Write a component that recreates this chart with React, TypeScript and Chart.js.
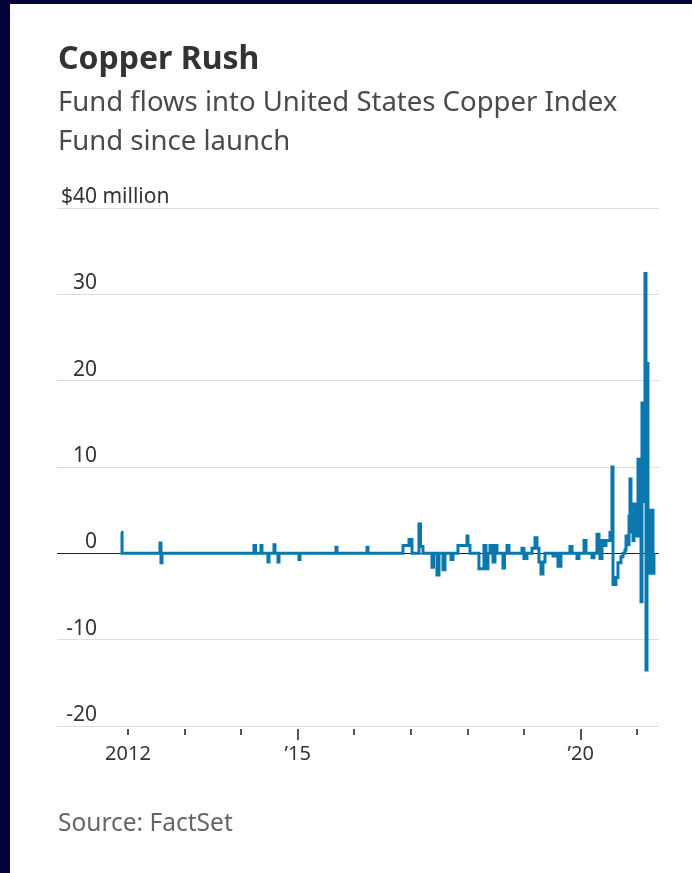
import React, { useEffect, useRef } from 'react';
import { Chart, registerables } from 'chart.js';

Chart.register(...registerables);

const FONT = '"Noto Sans", "Open Sans", sans-serif';

// Weekly fund flows ($ million). Each value holds from its date until the next listed date.
const flowDates = [
  2011.876, 2011.895,
  2012.565, 2012.583, 2012.601,
  2014.226, 2014.253, 2014.35, 2014.367, 2014.473, 2014.491, 2014.58, 2014.597, 2014.65, 2014.668,
  2015.021, 2015.039, 2015.675, 2015.693,
  2016.223, 2016.24, 2016.859, 2016.965,
  2017.018, 2017.141, 2017.168, 2017.212, 2017.371, 2017.398, 2017.459, 2017.495, 2017.565, 2017.601,
  2017.707, 2017.742, 2017.83, 2017.989,
  2018.007, 2018.042, 2018.201, 2018.289, 2018.325, 2018.36, 2018.396, 2018.449, 2018.484, 2018.519,
  2018.625, 2018.652, 2018.696, 2018.731, 2018.961, 2018.996,
  2019.049, 2019.138, 2019.191, 2019.226, 2019.261, 2019.297, 2019.332, 2019.367, 2019.509, 2019.544,
  2019.597, 2019.65, 2019.809, 2019.845, 2019.933, 2019.968,
  2020.057, 2020.092, 2020.198, 2020.233, 2020.286, 2020.322, 2020.339, 2020.375, 2020.41, 2020.445,
  2020.481, 2020.516, 2020.551, 2020.569, 2020.622, 2020.657, 2020.71, 2020.746,
  2020.781, 2020.799, 2020.834, 2020.852, 2020.869, 2020.887, 2020.905, 2020.922, 2020.94, 2020.958,
  2020.975, 2020.993,
  2021.011, 2021.028, 2021.046, 2021.064, 2021.081, 2021.099, 2021.117, 2021.134, 2021.152, 2021.17,
  2021.187, 2021.205, 2021.223, 2021.24, 2021.258, 2021.276, 2021.293,
];
const flowValues = [
  2.4, 0,
  1.2, -1.1, 0,
  0.9, 0, 0.9, 0, -1.0, 0, 1.0, 0, -1.0, 0,
  -0.7, 0, 0.7, 0,
  0.7, 0, 0.9, 1.6,
  0, 3.4, 0.8, 0, -1.6, 0, -2.5, 0, -1.9, 0,
  -0.7, 0, 0.9, 2.0,
  0.9, 0, -1.8, 0.9, -1.8, 0, 0.9, -1.0, 0.9, 0,
  -1.7, 0, 0.9, 0, 0.6, -0.6,
  0, 0.6, 1.8, 0.6, -1.0, -2.4, -1.0, 0, -0.3, 0,
  -1.5, 0, 0.8, 0, -0.6, 0,
  1.5, 0, -0.5, 0, 2.2, 0.5, -0.6, 1.5, 0.9, 1.5,
  1.5, 2.4, 10.0, -3.6, -2.8, -1.1, -0.4, 0,
  0.4, 2.0, 1.0, 4.3, 8.6, 2.5, 4.5, 1.5, 5.7, 3.0,
  5.7, 2.0,
  10.9, 4.0, 10.9, -5.6, 17.4, 6.0, 17.4, 32.4, -13.5, 22.0,
  5.0, -2.3, 5.0, -2.3, 5.0, -2.3, 0,
];

const yTickValues = [-20, -10, 0, 10, 20, 30, 40];
const yTickLabels = ['-20', '-10', '0', '10', '20', '30', '$40 million'];
const xTickYears = [2012, 2013, 2014, 2015, 2016, 2017, 2018, 2019, 2020, 2021];
const xTickLabels = ['2012', '', '', '\u201915', '', '', '', '', '\u201920', ''];
const xMajorYears = [2015, 2020];
const xMin = 2010.746;
const xMax = 2021.382;

const yLabelPlugin = {
  id: 'yLabels',
  afterDraw(chart: any) {
    const { ctx, chartArea, scales } = chart;
    const ys = scales.y;
    ctx.save();
    ctx.font = `21px ${FONT}`;
    ctx.fillStyle = '#333';
    ctx.textAlign = 'left';
    ctx.textBaseline = 'alphabetic';
    ys.ticks.forEach((t: any) => {
      const label = yTickLabels[yTickValues.indexOf(t.value)] ?? String(t.value);
      const numPart = label.split(' ')[0];
      const y = ys.getPixelForValue(t.value);
      const x = chartArea.left + 40 - ctx.measureText(numPart).width;
      ctx.fillText(label, x, y - 5);
    });
    ctx.restore();
  },
};

const xTickMarkPlugin = {
  id: 'xTickMarks',
  afterDraw(chart: any) {
    const { ctx, chartArea, scales } = chart;
    const xs = scales.x;
    ctx.save();
    ctx.strokeStyle = '#555';
    ctx.lineWidth = 2;
    xs.ticks.forEach((t: any) => {
      const x = Math.round(xs.getPixelForValue(t.value));
      const len = xMajorYears.includes(t.value) ? 11 : 6;
      ctx.beginPath();
      ctx.moveTo(x, chartArea.bottom + 3);
      ctx.lineTo(x, chartArea.bottom + 3 + len);
      ctx.stroke();
    });
    ctx.restore();
  },
};

export default function App() {
  const canvasRef = useRef<HTMLCanvasElement | null>(null);

  useEffect(() => {
    if (!canvasRef.current) return;
    const chart = new Chart(canvasRef.current, {
      type: 'line',
      data: {
        datasets: [
          {
            data: flowDates.map((d, i) => ({ x: d, y: flowValues[i] })),
            borderColor: '#0a77ad',
            borderWidth: 3,
            stepped: 'before',
            pointRadius: 0,
            borderJoinStyle: 'miter',
            borderCapStyle: 'butt',
            fill: false,
          },
        ],
      },
      options: {
        animation: false,
        responsive: false,
        maintainAspectRatio: false,
        events: [],
        layout: { padding: { left: 57, right: 33, top: 208, bottom: 0 } },
        plugins: {
          legend: { display: false },
          tooltip: { enabled: false },
          title: { display: false },
        },
        scales: {
          x: {
            type: 'linear',
            min: xMin,
            max: xMax,
            afterBuildTicks: (s: any) => {
              s.ticks = xTickYears.map((v) => ({ value: v }));
            },
            afterFit: (s: any) => {
              s.height = 147;
            },
            grid: { display: false, drawTicks: false },
            border: { display: false },
            ticks: {
              autoSkip: false,
              maxRotation: 0,
              padding: 16,
              color: '#333',
              font: { family: FONT, size: 20 },
              callback: (_v: any, i: number) => xTickLabels[i] ?? '',
            },
          },
          y: {
            type: 'linear',
            min: -20,
            max: 40,
            afterBuildTicks: (s: any) => {
              s.ticks = yTickValues.map((v) => ({ value: v }));
            },
            afterFit: (s: any) => {
              s.width = 0;
            },
            grid: {
              color: (c: any) => (c.tick && c.tick.value === 0 ? '#222' : '#dddddd'),
              lineWidth: 1,
              drawTicks: false,
            },
            border: { display: false },
            ticks: { display: false },
          },
        },
      } as any,
      plugins: [yLabelPlugin, xTickMarkPlugin],
    });
    return () => chart.destroy();
  }, []);

  return (
    <div
      style={{
        position: 'absolute',
        left: 0,
        top: 0,
        width: 692,
        height: 873,
        background: '#fff',
        overflow: 'hidden',
        fontFamily: FONT,
      }}
    >
      <canvas ref={canvasRef} width={692} height={873} style={{ position: 'absolute', left: 0, top: 0 }} />
      <div
        style={{
          position: 'absolute',
          left: 58,
          top: 39,
          fontSize: 32,
          lineHeight: '36px',
          fontWeight: 700,
          color: '#333',
          whiteSpace: 'nowrap',
        }}
      >
        Copper Rush
      </div>
      <div
        style={{
          position: 'absolute',
          left: 58,
          top: 81,
          fontSize: 27.5,
          lineHeight: '39px',
          color: '#4a4a4a',
          whiteSpace: 'nowrap',
        }}
      >
        Fund flows into United States Copper Index
        <br />
        Fund since launch
      </div>
      <div
        style={{
          position: 'absolute',
          left: 58,
          top: 808,
          fontSize: 24.5,
          lineHeight: '28px',
          color: '#666',
          whiteSpace: 'nowrap',
        }}
      >
        Source: FactSet
      </div>
      <div style={{ position: 'absolute', left: 0, top: 0, width: 692, height: 4, background: '#03033a' }} />
      <div style={{ position: 'absolute', left: 0, top: 0, width: 10, height: 873, background: '#03033a' }} />
    </div>
  );
}
